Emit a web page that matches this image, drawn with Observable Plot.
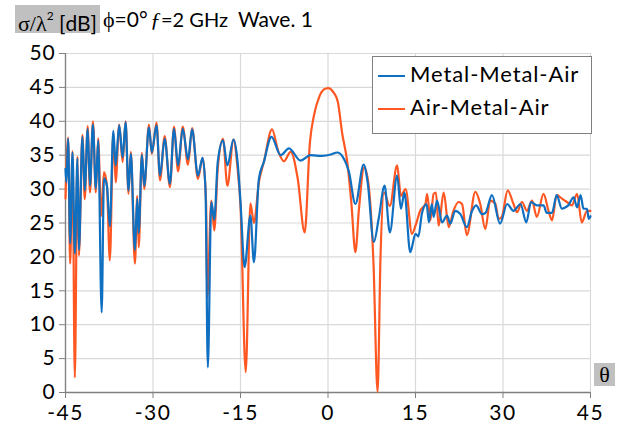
<!DOCTYPE html>
<html>
<head>
<meta charset="utf-8">
<script src="https://cdn.jsdelivr.net/npm/d3@7"></script>
<script src="https://cdn.jsdelivr.net/npm/@observablehq/plot@0.6"></script>
<style>
  html, body { margin: 0; padding: 0; background: #fff; }
  #wrap { position: relative; width: 621px; height: 430px; overflow: hidden; font-family: Lato, sans-serif; color: #000; }
  #chart { position: absolute; left: 0; top: 0; }
  .serif { font-family: "Liberation Serif", "DejaVu Serif", serif; }
  #title { position: absolute; left: 0; top: 3px; height: 30px; font-size: 21px; white-space: nowrap; }
  #title .box { position: absolute; left: 15px; top: 2px; width: 85px; height: 28px; background: #c0c0c0; }
  #title .t { position: absolute; top: 3px; line-height: 26px; }
  #legend { position: absolute; left: 372px; top: 56px; width: 218px; height: 76px; border: 1px solid #7f7f7f; background: #fff; font-size: 22px; letter-spacing: 0.9px; }
  #legend .row { position: absolute; left: 5px; height: 26px; line-height: 26px; white-space: nowrap; }
  #legend .sw { display: inline-block; width: 27px; height: 0; border-top: 2.5px solid; vertical-align: middle; margin-right: 5px; }
  #thetabox { position: absolute; left: 594px; top: 363px; width: 21px; height: 23px; background: #c0c0c0; font-size: 22px; line-height: 23px; text-align: center; }
  #chart svg g[aria-label="x-axis tick label"] text { letter-spacing: 1.5px; }
  #chart svg g[aria-label="y-axis tick label"] text { letter-spacing: 0.8px; }
</style>
</head>
<body>
<div id="wrap">
  <div id="chart"></div>
  <div id="title"></div>
  <div id="legend"></div>
  <div id="thetabox" class="serif">θ</div>
</div>
<script>
// ---- data ----
const seriesNames = ["Metal-Metal-Air", "Air-Metal-Air"];
const seriesColors = ["#0f6fc0", "#ff5722"];
const xTicks = [-45, -30, -15, 0, 15, 30, 45];
const yTicks = [0, 5, 10, 15, 20, 25, 30, 35, 40, 45, 50];

// Metal-Metal-Air (blue)
const mmaTheta = [-45, -44.85, -44.55, -44.2, -43.8, -43.4, -42.95, -42.7, -42.1, -41.7, -41.2, -40.8, -40.3, -39.8, -39.4, -38.8, -38.4, -37.9, -37.4, -36.8, -36.4, -35.8, -35.2, -34.7, -34.2, -33.8, -33.1, -32.7, -32.45, -31.9, -31.5, -30.7, -30.2, -29.4, -28.8, -28.0, -27.1, -26.4, -25.7, -24.9, -24.0, -23.3, -22.3, -21.5, -21.0, -20.6, -20.0, -19.5, -18.9, -18.0, -17.25, -16.2, -15.5, -15.0, -14.3, -13.3, -12.7, -11.85, -11.0, -9.7, -8.1, -6.7, -4.7, -3.0, -1.0, 0.5, 1.6, 2.5, 3.6, 4.7, 6.1, 6.8, 7.85, 8.7, 9.7, 10.6, 11.85, 12.5, 13.1, 14.1, 15.0, 15.5, 16.1, 16.9, 17.3, 17.8, 18.1, 18.7, 19.55, 20.4, 20.97, 21.8, 22.7, 23.8, 24.7, 25.4, 26.4, 27.0, 28.1, 29.5, 30.7, 31.8, 33.0, 34.0, 34.8, 35.8, 36.95, 37.5, 38.4, 39.2, 40.1, 40.7, 41.2, 42.1, 42.7, 43.3, 43.8, 44.4, 44.7, 45];
const mmaDb = [33.0, 31.0, 37.4, 22.0, 35.4, 20.5, 34.5, 21.0, 37.7, 29.8, 38.9, 30.5, 39.5, 30.1, 37.2, 11.8, 31.6, 30.5, 24.5, 38.6, 33.5, 39.4, 34.7, 39.9, 29.8, 35.2, 21.0, 28.6, 23.5, 35.0, 30.5, 39.1, 35.4, 39.4, 32.0, 37.4, 30.8, 38.9, 33.5, 38.9, 34.4, 38.8, 32.0, 34.6, 30.0, 3.7, 28.1, 25.5, 34.0, 37.2, 33.5, 37.3, 34.0, 28.1, 18.5, 26.1, 19.2, 31.5, 34.0, 37.7, 35.0, 36.0, 34.2, 35.0, 34.9, 35.1, 35.4, 34.8, 32.5, 27.8, 33.6, 31.0, 22.2, 25.7, 30.5, 23.6, 32.0, 27.1, 29.5, 20.7, 23.4, 23.0, 26.4, 27.8, 25.1, 27.8, 25.9, 28.3, 25.1, 26.1, 24.9, 26.8, 26.3, 24.4, 26.8, 27.6, 26.3, 26.5, 29.1, 24.9, 27.8, 26.8, 27.8, 25.1, 28.1, 27.6, 27.6, 26.5, 26.5, 29.1, 27.1, 27.3, 27.6, 28.8, 27.3, 29.1, 27.1, 27.1, 25.6, 26.0];

// Air-Metal-Air (orange)
const amaTheta = [-45, -44.55, -44.2, -43.8, -43.4, -42.95, -42.7, -42.1, -41.7, -41.2, -40.8, -40.3, -39.8, -39.4, -38.9, -38.4, -37.9, -37.4, -36.8, -36.4, -35.8, -35.2, -34.7, -34.2, -33.8, -33.1, -32.7, -32.45, -31.9, -31.5, -30.7, -30.2, -29.4, -28.8, -28.0, -27.1, -26.4, -25.7, -24.9, -24.0, -23.3, -22.3, -21.5, -20.9, -20.7, -20.0, -19.5, -18.9, -18.0, -17.25, -16.2, -15.5, -15.0, -14.1, -13.3, -12.7, -11.85, -11.0, -9.6, -8.5, -7.55, -6.4, -5.2, -4.0, -3.1, -2.4, -1.5, -0.7, 0.0, 1.0, 1.7, 2.4, 3.3, 4.0, 4.7, 5.3, 6.2, 6.9, 7.8, 8.5, 9.0, 9.6, 10.6, 11.85, 12.5, 13.3, 14.4, 15.0, 15.8, 16.7, 17.0, 17.55, 18.1, 18.5, 18.97, 19.83, 20.7, 21.5, 22.4, 22.98, 23.8, 25.26, 26.1, 26.97, 27.8, 28.7, 29.25, 29.8, 30.8, 31.8, 32.4, 33.25, 34.1, 34.97, 35.8, 36.95, 37.8, 38.4, 39.2, 40.1, 40.96, 41.8, 42.7, 43.5, 44.4, 45];
const amaDb = [28.6, 37.6, 19.0, 35.6, 2.2, 34.8, 20.2, 38.0, 28.5, 39.3, 29.5, 40.0, 29.5, 37.5, 26.0, 32.5, 30.5, 19.5, 38.3, 31.0, 39.5, 34.0, 40.0, 29.3, 35.5, 19.0, 29.0, 21.4, 35.3, 30.0, 39.5, 35.2, 39.8, 31.3, 37.8, 30.3, 39.2, 32.6, 39.2, 33.6, 39.0, 31.5, 34.6, 28.0, 14.0, 28.3, 23.9, 33.0, 37.4, 30.5, 37.3, 33.0, 27.5, 3.0, 27.9, 25.0, 31.0, 34.0, 38.8, 35.5, 34.1, 35.5, 31.6, 23.6, 36.9, 40.9, 43.6, 44.7, 44.9, 44.2, 42.8, 38.4, 34.0, 28.0, 20.7, 27.0, 33.2, 31.0, 19.0, 0.1, 20.0, 29.5, 27.5, 33.5, 29.0, 30.0, 23.4, 24.6, 26.8, 27.8, 29.3, 25.4, 29.3, 29.5, 24.6, 29.5, 24.4, 26.8, 28.1, 27.8, 23.2, 29.6, 27.8, 24.1, 28.3, 27.8, 25.6, 25.9, 29.8, 27.8, 26.6, 28.1, 26.8, 28.3, 25.9, 29.3, 26.8, 25.4, 29.1, 28.6, 28.1, 27.6, 29.3, 25.1, 26.8, 26.8];

const mma = mmaTheta.map((t, i) => ({theta: t, db: mmaDb[i]}));
const ama = amaTheta.map((t, i) => ({theta: t, db: amaDb[i]}));

const chart = Plot.plot({
  width: 621,
  height: 430,
  marginTop: 53,
  marginBottom: 38,
  marginLeft: 65,
  marginRight: 31,
  style: {fontFamily: "Lato, sans-serif", fontSize: "21px", background: "#fff", color: "#000", overflow: "visible"},
  x: {domain: [-45, 45]},
  y: {domain: [0, 50]},
  marks: [
    Plot.gridX(xTicks, {stroke: "#d9d9d9", strokeOpacity: 1, strokeWidth: 1.2}),
    Plot.gridY(yTicks, {stroke: "#d9d9d9", strokeOpacity: 1, strokeWidth: 1.2}),
    Plot.ruleY([0], {stroke: "#808080", strokeWidth: 1.3}),
    Plot.ruleX([-45], {stroke: "#808080", strokeWidth: 1.3}),
    Plot.axisX(xTicks, {tickSize: 6, tickPadding: 7, stroke: "#808080", fill: "#000", label: null, tickFormat: d => d < 0 ? "-" + Math.abs(d) : String(d)}),
    Plot.axisY(yTicks, {tickSize: 6, tickPadding: 4, stroke: "#808080", fill: "#000", label: null}),
    Plot.line(ama, {x: "theta", y: "db", stroke: seriesColors[1], strokeWidth: 2.2, curve: "monotone-x"}),
    Plot.line(mma, {x: "theta", y: "db", stroke: seriesColors[0], strokeWidth: 2.2, curve: "monotone-x"})
  ]
});
document.getElementById("chart").appendChild(chart);

// title
const title = document.getElementById("title");
title.innerHTML =
  '<div class="box"></div>' +
  '<span class="t" style="left:18px"><span class="serif" style="font-size:22px">σ/λ</span><sup style="font-size:12px;position:relative;top:-3px">2</sup> [dB]</span>' +
  '<span class="t" style="left:103px"><span class="serif" style="font-size:22px">ϕ</span>=0°</span>' +
  '<span class="t" style="left:150px;font-size:20px"><span class="serif" style="font-size:22px;font-style:italic">ƒ</span>=2 GHz</span>' +
  '<span class="t" style="left:238px">Wave. 1</span>';

// legend
const legend = document.getElementById("legend");
legend.innerHTML = seriesNames.map((n, i) =>
  `<div class="row" style="top:${i === 0 ? 4 : 37}px"><span class="sw" style="border-color:${seriesColors[i]}"></span>${n}</div>`
).join("");
</script>
</body>
</html>
